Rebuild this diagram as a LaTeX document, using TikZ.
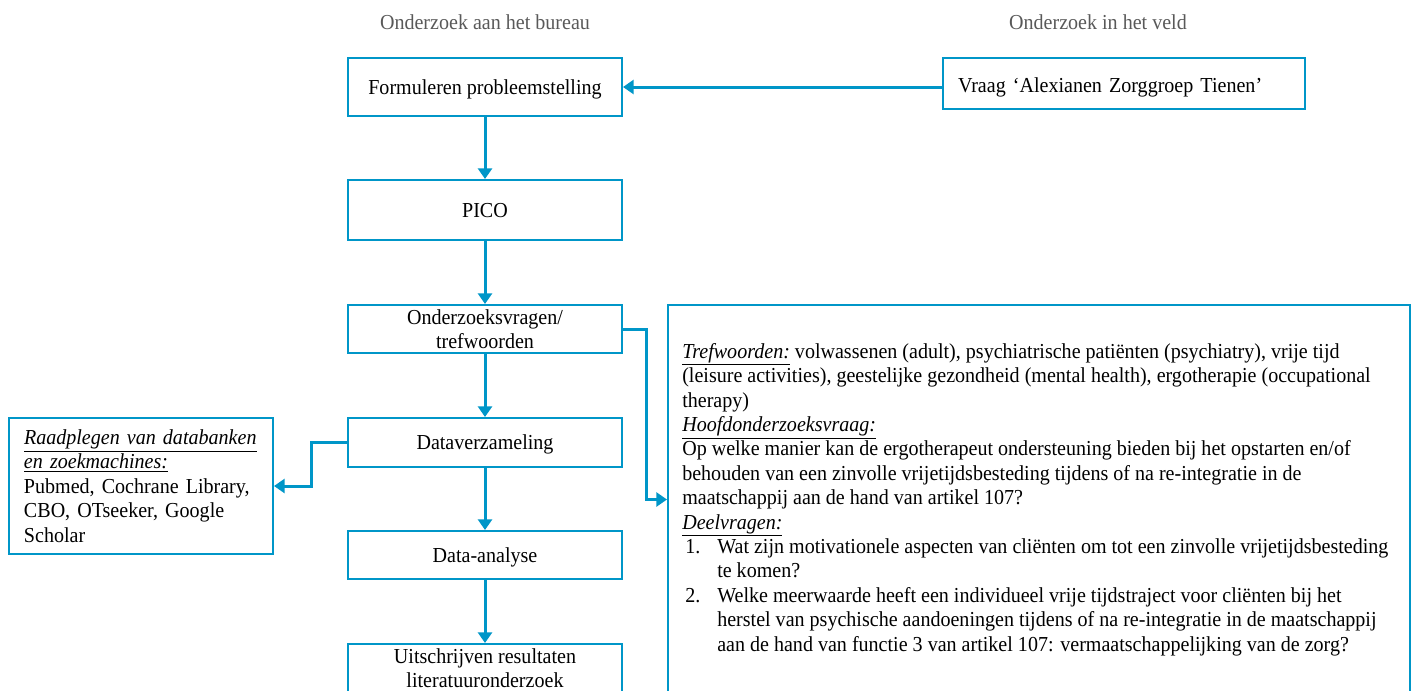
\documentclass[tikz,border=0pt]{standalone}
\usepackage{fontspec}
\setmainfont{Liberation Serif}[FakeStretch=0.94]
\usetikzlibrary{arrows.meta}
\definecolor{flowblue}{RGB}{0,150,200}
\definecolor{headgray}{RGB}{89,89,89}
\newdimen\pxu \pxu=0.75pt
\newcommand{\ulit}[1]{\underline{\textit{#1}}}
\newcommand{\itemno}[1]{\hspace*{3\pxu}\makebox[32\pxu][l]{#1}}
\newcommand{\itemcont}{\hspace*{35\pxu}}

\begin{document}
\begin{tikzpicture}[x=0.75pt,y=-0.75pt,
  every node/.style={font=\fontsize{16}{18.3}\selectfont},
  stepbox/.style={draw=flowblue,line width=1.5pt,minimum width=274\pxu,align=center,inner sep=0pt},
  oneline/.style={text height=19\pxu,text depth=5\pxu},
  textbox/.style={draw=flowblue,line width=1.5pt,align=left,inner xsep=15\pxu,inner ysep=0pt},
  frame/.style={draw=flowblue,line width=1.5pt,inner sep=0pt},
  flow/.style={draw=flowblue,line width=2.25pt,-{Triangle[width=10.5pt,length=8pt]}},
  heading/.style={text=headgray}]

\useasboundingbox (0,0) rectangle (1414,690);
\clip (0,0) rectangle (1414,690);

% column headings
\node[heading] (h1) at (485,22) {Onderzoek aan het bureau};
\node[heading] (h2) at (1098,22) {Onderzoek in het veld};

% main flow
\node[stepbox,oneline,minimum height=58\pxu] (form) at (485,87) {Formuleren probleemstelling};
\node[textbox,text width=332\pxu,minimum height=51\pxu,text height=23\pxu,text depth=5\pxu] (vraag) at (1124,83.5) {Vraag ‘Alexianen Zorggroep Tienen’};
\node[stepbox,oneline,minimum height=60\pxu] (pico) at (485,210) {PICO};
\node[stepbox,minimum height=48\pxu] (ovr) at (485,329) {Onderzoeksvragen/\\trefwoorden};
\node[stepbox,oneline,minimum height=49\pxu] (dv) at (485,442.5) {Dataverzameling};
\node[stepbox,oneline,minimum height=48\pxu] (da) at (485,555) {Data-analyse};
\node[stepbox,minimum height=48\pxu] (uit) at (485,668) {Uitschrijven resultaten\\literatuuronderzoek};

% sources box
\node[textbox,text width=234\pxu,minimum height=136\pxu] (lb) at (141,486)
  {\ulit{Raadplegen van databanken}\\
   \ulit{en zoekmachines:}\\
   Pubmed, Cochrane Library,\\
   CBO, OTseeker, Google\\
   Scholar};

% keywords and research questions: frame plus its text
\node[frame,minimum width=742\pxu,minimum height=389\pxu] (big) at (1039,499.5) {};
\node[anchor=west,align=left,inner sep=0pt,font=\fontsize{16}{24.4\pxu}\selectfont] (bigtext) at ([xshift=15\pxu]big.west)
  {\ulit{Trefwoorden:} volwassenen (adult), psychiatrische patiënten (psychiatry), vrije tijd\\
   (leisure activities), geestelijke gezondheid (mental health), ergotherapie (occupational\\
   therapy)\\
   \ulit{Hoofdonderzoeksvraag:}\\
   Op welke manier kan de ergotherapeut ondersteuning bieden bij het opstarten en/of\\
   behouden van een zinvolle vrijetijdsbesteding tijdens of na re-integratie in de\\
   maatschappij aan de hand van artikel 107?\\
   \ulit{Deelvragen:}\\
   \itemno{1.}Wat zijn motivationele aspecten van cliënten om tot een zinvolle vrijetijdsbesteding\\
   \itemcont te komen?\\
   \itemno{2.}Welke meerwaarde heeft een individueel vrije tijdstraject voor cliënten bij het\\
   \itemcont herstel van psychische aandoeningen tijdens of na re-integratie in de maatschappij\\
   \itemcont aan de hand van functie 3 van artikel 107: vermaatschappelijking van de zorg?};

% connectors
\draw[flow] (form.east -| vraag.west) -- (form.east);
\draw[flow] (form.south) -- (pico.north);
\draw[flow] (pico.south) -- (ovr.north);
\draw[flow] (ovr.south) -- (dv.north);
\draw[flow] (dv.south) -- (da.north);
\draw[flow] (da.south) -- (uit.north);
\draw[flow] (ovr.east) -- ++(23,0) |- (big.west);
\draw[flow] (dv.west) -- ++(-36,0) |- (lb.east);
\end{tikzpicture}
\end{document}
